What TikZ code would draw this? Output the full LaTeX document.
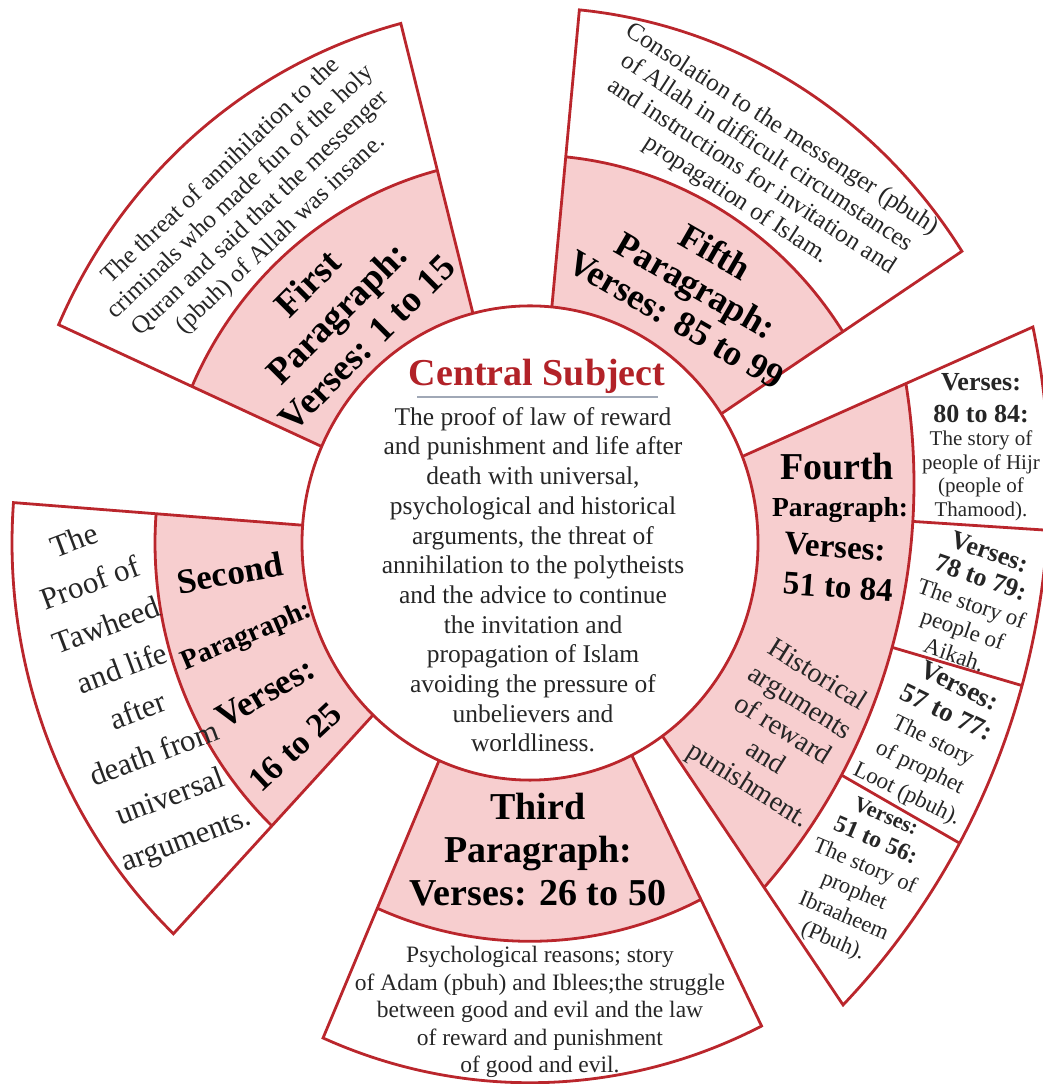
\documentclass[tikz,border=0pt]{standalone}
\usepackage{fontspec}
\setmainfont{Liberation Serif}
\usepackage{tikz}
\usetikzlibrary{calc}

\definecolor{linered}{RGB}{186,38,44}
\definecolor{pinkfill}{RGB}{247,206,207}
\definecolor{titlered}{RGB}{178,34,40}
\definecolor{rulegray}{RGB}{160,168,182}

\tikzset{
  sect/.style={draw=linered, line width=2.8pt},
  ptext/.style={align=center, text=black, font=\bfseries\fontsize{36}{40}\selectfont},
  wtext/.style={align=center, text=black!85, font=\fontsize{24}{27}\selectfont}
}

\begin{document}
\begin{tikzpicture}[x=1pt, y=1pt, yscale=1.04]
  \useasboundingbox (-530,-520.2) rectangle (512,522.1);
  \coordinate (F) at (-194,57);

  % pink parts
  \fill[pinkfill] (104.5:228) arc[start angle=104.5, end angle=156, radius=228] -- (156:370) arc[start angle=156, end angle=104.5, radius=370] -- cycle;
  \fill[pinkfill] (33:228) arc[start angle=33, end angle=84.5, radius=228] -- (84.5:373) arc[start angle=84.5, end angle=33, radius=373] -- cycle;
  \fill[pinkfill] (175.7:228) arc[start angle=175.7, end angle=226.5, radius=228] -- (226.5:375) arc[start angle=226.5, end angle=175.7, radius=375] -- cycle;
  \fill[pinkfill] (-113.5:228) arc[start angle=-113.5, end angle=-63.5, radius=228] -- (-63.5:383) arc[start angle=-63.5, end angle=-113.5, radius=383] -- cycle;
  \fill[pinkfill] (21.4:228) -- (375.9,153.3) arc[start angle=9.59, end angle=-42.2, radius=578] -- (-54.5:228) arc[start angle=-54.5, end angle=21.4, radius=228] -- cycle;

  % first
  \draw[sect] (104.5:228) -- (104.5:516) arc[start angle=104.5, end angle=156, radius=516] -- (156:228);
  \draw[sect] (104.5:370) arc[start angle=104.5, end angle=156, radius=370];
  % fifth
  \draw[sect] (33:228) -- (33:515) arc[start angle=33, end angle=84.5, radius=515] -- (84.5:228);
  \draw[sect] (33:373) arc[start angle=33, end angle=84.5, radius=373];
  % second
  \draw[sect] (175.7:228) -- (175.7:518) arc[start angle=175.7, end angle=226.5, radius=518] -- (226.5:228);
  \draw[sect] (175.7:375) arc[start angle=175.7, end angle=226.5, radius=375];
  % third
  \draw[sect] (-113.5:228) -- (-113.5:519) arc[start angle=-113.5, end angle=-63.5, radius=519] -- (-63.5:228);
  \draw[sect] (-113.5:383) arc[start angle=-113.5, end angle=-63.5, radius=383];
  % fourth
  \draw[sect] (21.4:228) -- (502.9,207.7) arc[start angle=12.2, end angle=-44.67, radius=713] -- (-54.5:228);
  \draw[sect] (375.9,153.3) arc[start angle=9.59, end angle=-42.2, radius=578];
  \draw[sect] ($(F)+(-3.6:578)$) -- ($(F)+(-3.6:713)$);
  \draw[sect] ($(F)+(-15.8:578)$) -- ($(F)+(-15.8:713)$);
  \draw[sect] ($(F)+(-29:578)$) -- ($(F)+(-29:713)$);

  \draw[sect, fill=white] (0,0) circle[radius=228];

  \node[text=titlered, font=\bfseries\fontsize{38}{42}\selectfont] (cenhead) at (7,160.6) {Central Subject};
  \draw[rulegray, line width=1.2pt] (-113,140.4) -- (128,140.4);
  \node[wtext, font=\fontsize{25.5}{29.7}\selectfont] (centext) at (3,-35.4) {The proof of law of reward\\and punishment and life after\\death with universal,\\psychological and historical\\arguments, the threat of\\annihilation to the polytheists\\and the advice to continue\\the invitation and\\propagation of Islam\\avoiding the pressure of\\unbelievers and\\worldliness.};

  \node[ptext, rotate=45, font=\bfseries\fontsize{37}{42}\selectfont] (firstp) at (-193,221.2) {First\\Paragraph:\\Verses: 1 to 15};
  \node[wtext, rotate=43.5, font=\fontsize{25}{29}\selectfont] (firstw) at (-279,327) {The threat of annihilation to the\\criminals who made fun of the holy\\Quran and said that the messenger\\(pbuh) of Allah was insane.};

  \node[ptext, rotate=-30, font=\bfseries\fontsize{36}{39}\selectfont] (fifthp) at (166,247.6) {Fifth\\Paragraph:\\Verses: 85 to 99};
  \node[wtext, rotate=-33, font=\fontsize{25}{28}\selectfont] (fifthw) at (229,363.5) {Consolation to the messenger (pbuh)\\of Allah in difficult circumstances\\and instructions for invitation and\\propagation of Islam.};

  \node[ptext, rotate=10, font=\bfseries\fontsize{35}{40}\selectfont] (secp1) at (-300,-28.8) {Second};
  \node[ptext, rotate=23, font=\bfseries\fontsize{28}{32}\selectfont] (secp2) at (-283,-90.4) {Paragraph:};
  \node[ptext, rotate=30, font=\bfseries\fontsize{35}{40}\selectfont] (secp3) at (-265,-144.2) {Verses:};
  \node[ptext, rotate=43, font=\bfseries\fontsize{34}{40}\selectfont] (secp4) at (-235,-196.2) {16 to 25};
  \node[wtext, rotate=20.5, font=\fontsize{31}{45.5}\selectfont] (secw) at (-399,-143.3) {The\\Proof of\\Tawheed\\and life\\after\\death from\\universal\\arguments.};

  \node[ptext, font=\bfseries\fontsize{38}{43}\selectfont] (thirdp) at (8,-294.7) {Third\\Paragraph:\\Verses: 26 to 50};
  \node[wtext, font=\fontsize{23.5}{27.5}\selectfont] (thirdw) at (10,-451) {Psychological reasons; story\\of Adam (pbuh) and Iblees;the struggle\\between good and evil and the law\\of reward and punishment\\of good and evil.};

  \node[ptext, font=\bfseries\fontsize{38}{40}\selectfont] (fourthp1) at (307,73.1) {Fourth};
  \node[ptext, font=\bfseries\fontsize{27.5}{30}\selectfont] (fourthp2) at (310,31.7) {Paragraph:};
  \node[ptext, rotate=-4, font=\bfseries\fontsize{33}{36}\selectfont] (fourthp3) at (305,-3.8) {Verses:};
  \node[ptext, rotate=-4, font=\bfseries\fontsize{33}{36}\selectfont] (fourthp4) at (308,-42.3) {51 to 84};
  \node[wtext, rotate=-32, font=\fontsize{28}{32.5}\selectfont] (fourthw) at (252,-180.8) {Historical\\arguments\\of reward\\and\\punishment.};

  \node[wtext, font=\fontsize{21}{23.5}\selectfont] (boxa) at (451,92.3) {{\bfseries\fontsize{26}{28}\selectfont Verses:}\\[8.5pt]{\bfseries\fontsize{26}{28}\selectfont 80 to 84:}\\The story of\\people of Hijr\\(people of\\Thamood).};
  \node[wtext, rotate=-19, font=\fontsize{23}{27}\selectfont] (boxb) at (442,-57.7) {{\bfseries\fontsize{26}{28}\selectfont Verses:}\\{\bfseries\fontsize{26}{28}\selectfont 78 to 79:}\\The story of\\people of\\Aikah.};
  \node[wtext, rotate=-26, font=\fontsize{23}{29.6}\selectfont] (boxc) at (403,-190.4) {{\bfseries\fontsize{27}{29}\selectfont Verses:}\\{\bfseries\fontsize{27}{29}\selectfont 57 to 77:}\\The story\\of prophet\\Loot (pbuh).};
  \node[wtext, rotate=-23, font=\fontsize{22.5}{27}\selectfont] (boxd) at (329,-324) {{\bfseries\fontsize{22}{27}\selectfont Verses:}\\{\bfseries\fontsize{24}{27}\selectfont 51 to 56:}\\The story of\\prophet\\Ibraaheem\\(Pbuh).};
\end{tikzpicture}
\end{document}
